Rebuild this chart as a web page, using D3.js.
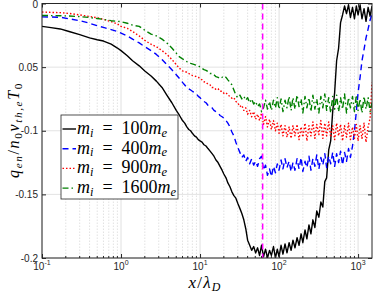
<!DOCTYPE html>
<html>
<head>
<meta charset="utf-8">
<script src="https://cdn.jsdelivr.net/npm/d3@7"></script>
<style>
  body { margin: 0; background: #fff; }
  svg { display: block; }
</style>
</head>
<body>
<svg id="chart"></svg>
<script>
// x / lambda_D sample positions (shared by all runs)
const xs = [0.1, 0.13, 0.17, 0.22, 0.3, 0.4, 0.5, 0.6, 0.75, 0.9, 1, 1.2, 1.4, 1.7, 2, 2.4, 2.8, 3.3, 3.8, 4.4, 5, 5.5,
  6, 6.4, 6.8, 7.2, 7.6, 8, 8.5, 9, 9.5, 10,
  10.6, 11.2, 11.9, 12.6, 13.4, 14.2, 15, 15.9, 16.9, 17.9,
  19, 20, 21.3, 22.5, 23.9, 25.3, 26.8, 28.4, 30, 31.9,
  33.8, 35.8, 37.9, 40, 42.5, 45, 47.7, 50.5, 53.5, 56.7,
  60, 63.6, 67.4, 71.4, 75.7, 80, 85, 90, 95, 100,
  106, 112, 119, 126, 134, 142, 150, 159, 169, 179,
  190, 200, 213, 225, 239, 253, 268, 284, 300, 319,
  338, 358, 379, 400, 425, 450, 477, 505, 535, 567,
  600, 636, 674, 714, 757, 800, 850, 900, 950, 1000,
  1060, 1120, 1190, 1260, 1340, 1420, 1500];

const q100 = [-0.018, -0.019, -0.02, -0.022, -0.0245, -0.027, -0.0285, -0.0295, -0.032, -0.035, -0.037, -0.041, -0.045, -0.049, -0.053, -0.057, -0.061, -0.066, -0.072, -0.078, -0.084, -0.088,
  -0.092, -0.094, -0.097, -0.099, -0.1, -0.102, -0.104, -0.105, -0.107, -0.108,
  -0.109, -0.111, -0.112, -0.114, -0.116, -0.118, -0.12, -0.123, -0.125, -0.128,
  -0.131, -0.134, -0.137, -0.141, -0.144, -0.148, -0.151, -0.153, -0.157, -0.161,
  -0.165, -0.17, -0.177, -0.186, -0.19, -0.194, -0.191, -0.196, -0.192, -0.198,
  -0.19, -0.199, -0.193, -0.2, -0.194, -0.198, -0.191, -0.2, -0.193, -0.199,
  -0.19, -0.197, -0.189, -0.196, -0.188, -0.194, -0.186, -0.192, -0.184, -0.19,
  -0.181, -0.188, -0.178, -0.185, -0.174, -0.181, -0.17, -0.176, -0.163, -0.168,
  -0.156, -0.16, -0.14, -0.137, -0.115, -0.108, -0.085, -0.07, -0.045, -0.035,
  -0.015, -0.009, -0.002, -0.008, -0.001, -0.011, -0.003, -0.012, -0.002, -0.009,
  -0.001, -0.012, -0.004, -0.014, -0.003, -0.01, -0.002];

const q400 = [-0.0105, -0.0106, -0.0108, -0.012, -0.0135, -0.0155, -0.0175, -0.0188, -0.0205, -0.022, -0.0232, -0.0255, -0.028, -0.031, -0.034, -0.037, -0.04, -0.044, -0.048, -0.052, -0.056, -0.059,
  -0.062, -0.064, -0.066, -0.067, -0.068, -0.069, -0.07, -0.071, -0.073, -0.074,
  -0.076, -0.077, -0.078, -0.08, -0.081, -0.082, -0.084, -0.085, -0.086, -0.088,
  -0.089, -0.09, -0.092, -0.094, -0.097, -0.101, -0.104, -0.109, -0.113, -0.117,
  -0.121, -0.119, -0.124, -0.121, -0.126, -0.122, -0.127, -0.124, -0.128, -0.122,
  -0.12, -0.131, -0.127, -0.135, -0.13, -0.136, -0.128, -0.133, -0.126, -0.131,
  -0.123, -0.13, -0.122, -0.129, -0.124, -0.132, -0.125, -0.131, -0.122, -0.13,
  -0.121, -0.132, -0.124, -0.129, -0.12, -0.131, -0.122, -0.128, -0.119, -0.13,
  -0.121, -0.127, -0.118, -0.129, -0.12, -0.126, -0.117, -0.128, -0.118, -0.125,
  -0.116, -0.127, -0.117, -0.124, -0.114, -0.121, -0.112, -0.1, -0.085, -0.07,
  -0.058, -0.045, -0.036, -0.027, -0.02, -0.013, -0.008];

const q900 = [-0.0067, -0.007, -0.0072, -0.0078, -0.009, -0.0102, -0.0112, -0.0125, -0.0143, -0.016, -0.018, -0.0195, -0.022, -0.0255, -0.029, -0.032, -0.034, -0.037, -0.04, -0.044, -0.048, -0.051,
  -0.053, -0.0535, -0.054, -0.055, -0.056, -0.0565, -0.057, -0.0575, -0.058, -0.059,
  -0.06, -0.0615, -0.062, -0.0635, -0.064, -0.066, -0.066, -0.0675, -0.067, -0.069,
  -0.069, -0.0705, -0.07, -0.072, -0.073, -0.0745, -0.074, -0.077, -0.078, -0.081,
  -0.08, -0.084, -0.082, -0.087, -0.084, -0.089, -0.085, -0.091, -0.087, -0.092,
  -0.086, -0.095, -0.089, -0.097, -0.091, -0.099, -0.092, -0.1, -0.094, -0.102,
  -0.095, -0.104, -0.096, -0.105, -0.097, -0.106, -0.096, -0.104, -0.095, -0.107,
  -0.097, -0.105, -0.094, -0.108, -0.096, -0.104, -0.093, -0.106, -0.095, -0.103,
  -0.092, -0.106, -0.094, -0.104, -0.093, -0.105, -0.096, -0.107, -0.094, -0.104,
  -0.095, -0.108, -0.096, -0.105, -0.094, -0.107, -0.097, -0.106, -0.095, -0.108,
  -0.096, -0.106, -0.094, -0.109, -0.097, -0.09, -0.062];

const q1600 = [-0.0094, -0.0095, -0.0096, -0.0098, -0.0103, -0.011, -0.0118, -0.0125, -0.0135, -0.014, -0.0143, -0.0155, -0.017, -0.018, -0.021, -0.024, -0.0255, -0.028, -0.031, -0.035, -0.039, -0.042,
  -0.0435, -0.0445, -0.0457, -0.046, -0.047, -0.0475, -0.048, -0.0485, -0.049, -0.05,
  -0.051, -0.052, -0.0525, -0.0535, -0.055, -0.055, -0.056, -0.0575, -0.058, -0.059,
  -0.058, -0.057, -0.058, -0.06, -0.062, -0.064, -0.068, -0.072, -0.074, -0.072,
  -0.075, -0.073, -0.076, -0.074, -0.078, -0.075, -0.079, -0.077, -0.081, -0.079,
  -0.085, -0.082, -0.076, -0.083, -0.077, -0.084, -0.076, -0.082, -0.074, -0.083,
  -0.075, -0.085, -0.076, -0.082, -0.073, -0.084, -0.074, -0.083, -0.072, -0.081,
  -0.075, -0.086, -0.073, -0.082, -0.074, -0.085, -0.072, -0.083, -0.075, -0.086,
  -0.073, -0.082, -0.071, -0.084, -0.074, -0.086, -0.073, -0.083, -0.072, -0.085,
  -0.074, -0.083, -0.071, -0.086, -0.074, -0.082, -0.073, -0.085, -0.072, -0.084,
  -0.075, -0.086, -0.073, -0.083, -0.074, -0.085, -0.078];

const massRatios = ["100", "400", "900", "1600"];
const seriesValues = [q100, q400, q900, q1600];
const colors = ["#000000", "#0000ff", "#ff0000", "#008000"];
const dashes = [null, "6,4", "1.5,2", "6,3,1.5,3"];

const xMajor = [0.1, 1, 10, 100, 1000];
const xExponents = ["-1", "0", "1", "2", "3"];
const yTicks = [-0.2, -0.15, -0.1, -0.05, 0];
const yTickLabels = ["-0.2", "-0.15", "-0.1", "0.05", "0"];
const debyeMark = 62;

const WIDTH = 374;
const HEIGHT = 294;
const plot = { left: 42, right: 372, top: 3.5, bottom: 258 };

const svg = d3.select("#chart").attr("width", WIDTH).attr("height", HEIGHT);

const xScale = d3.scaleLog().domain([0.1, 1500]).range([plot.left, plot.right]);
const yScale = d3.scaleLinear().domain([-0.2, 0]).range([plot.bottom, plot.top]);

const minor = [];
[-1, 0, 1, 2, 3].forEach((e) => {
  for (let k = 2; k <= 9; k++) {
    const v = k * Math.pow(10, e);
    if (v < 1500) minor.push(v);
  }
});

// grid
const grid = svg.append("g");
grid.selectAll(".ymaj").data(yTicks).join("line")
  .attr("x1", plot.left).attr("x2", plot.right)
  .attr("y1", (d) => yScale(d)).attr("y2", (d) => yScale(d))
  .attr("stroke", "#e3e3e3").attr("stroke-width", 1);
grid.selectAll(".xmin").data(minor).join("line")
  .attr("x1", (d) => xScale(d)).attr("x2", (d) => xScale(d))
  .attr("y1", plot.top).attr("y2", plot.bottom)
  .attr("stroke", "#cfcfcf").attr("stroke-width", 0.6).attr("stroke-dasharray", "1.5,1.5");
grid.selectAll(".xmaj").data(xMajor).join("line")
  .attr("x1", (d) => xScale(d)).attr("x2", (d) => xScale(d))
  .attr("y1", plot.top).attr("y2", plot.bottom)
  .attr("stroke", "#e0e0e0").attr("stroke-width", 1);

svg.append("clipPath").attr("id", "clip")
  .append("rect")
  .attr("x", plot.left).attr("y", plot.top)
  .attr("width", plot.right - plot.left).attr("height", plot.bottom - plot.top);

const line = d3.line().x((d) => xScale(d[0])).y((d) => yScale(d[1]));

const lines = svg.append("g").attr("clip-path", "url(#clip)");
seriesValues.forEach((vals, i) => {
  lines.append("path")
    .datum(xs.map((v, j) => [v, vals[j]]))
    .attr("d", line)
    .attr("fill", "none")
    .attr("stroke", colors[i])
    .attr("stroke-width", 1.4)
    .attr("stroke-linejoin", "round")
    .attr("stroke-dasharray", dashes[i]);
});

lines.append("line")
  .attr("x1", xScale(debyeMark)).attr("x2", xScale(debyeMark))
  .attr("y1", plot.top).attr("y2", plot.bottom)
  .attr("stroke", "#ff00ff").attr("stroke-width", 1.5).attr("stroke-dasharray", "6,4");

// axes
const axisColor = "#262626";
const xAxis = svg.append("g").attr("transform", `translate(0, ${plot.bottom})`)
  .call(d3.axisBottom(xScale).tickValues(xMajor).tickSize(-4).tickFormat(""));
const xAxisTop = svg.append("g").attr("transform", `translate(0, ${plot.top})`)
  .call(d3.axisTop(xScale).tickValues(xMajor).tickSize(-4).tickFormat(""));
const yAxis = svg.append("g").attr("transform", `translate(${plot.left}, 0)`)
  .call(d3.axisLeft(yScale).tickValues(yTicks).tickSize(-4).tickFormat(""));
const yAxisRight = svg.append("g").attr("transform", `translate(${plot.right}, 0)`)
  .call(d3.axisRight(yScale).tickValues(yTicks).tickSize(-4).tickFormat(""));
[xAxis, xAxisTop, yAxis, yAxisRight].forEach((g) => {
  g.select(".domain").remove();
  g.selectAll("line").attr("stroke", axisColor);
});
svg.append("g").selectAll("line").data(minor).join("line")
  .attr("x1", (d) => xScale(d)).attr("x2", (d) => xScale(d))
  .attr("y1", plot.bottom).attr("y2", plot.bottom - 2)
  .attr("stroke", axisColor);

svg.append("rect")
  .attr("x", plot.left).attr("y", plot.top)
  .attr("width", plot.right - plot.left).attr("height", plot.bottom - plot.top)
  .attr("fill", "none").attr("stroke", axisColor).attr("stroke-width", 1);

// tick labels
const tickFont = "'Liberation Sans', Arial, sans-serif";
xMajor.forEach((v, i) => {
  const t = svg.append("text")
    .attr("x", xScale(v)).attr("y", 270)
    .attr("text-anchor", "middle")
    .attr("font-family", tickFont).attr("font-size", 10).attr("fill", axisColor);
  t.append("tspan").text("10");
  t.append("tspan").attr("dy", -5).attr("font-size", 7).text(xExponents[i]);
});
svg.append("g").selectAll("text").data(yTicks).join("text")
  .attr("x", plot.left - 4).attr("y", (d) => Math.max(yScale(d) + 3.5, 8))
  .attr("text-anchor", "end")
  .attr("font-family", tickFont).attr("font-size", 10).attr("fill", axisColor)
  .text((d, i) => yTickLabels[i]);

// math-style text: italic serif with subscripts
const mathFont = "'Liberation Serif', 'Times New Roman', serif";
function mathText(sel, parts, size, subShift = 0.2) {
  sel.selectAll("tspan").remove();
  let shift = 0;
  parts.forEach((p) => {
    const target = p.sub ? size * subShift : 0;
    sel.append("tspan")
      .attr("dy", target - shift)
      .attr("font-size", p.sub ? size * 0.7 : size)
      .attr("font-style", p.it ? "italic" : "normal")
      .text(p.t);
    shift = target;
  });
}
// widen letter spacing so the label spans the same length as in the figure
function spreadMath(sel, parts, size, targetLen) {
  mathText(sel, parts, size);
  const len = sel.node().getComputedTextLength();
  const n = parts.reduce((a, p) => a + p.t.length, 0);
  if (len < targetLen) sel.attr("letter-spacing", (targetLen - len) / n);
}
function fitMath(sel, parts, size, targetLen, subShift) {
  mathText(sel, parts, size, subShift);
  const len = sel.node().getComputedTextLength();
  const s = len > 0 ? size * targetLen / len : size;
  mathText(sel, parts, s, subShift);
  return s;
}

// axis labels
const xLabel = svg.append("text")
  .attr("x", 205).attr("y", 287.5)
  .attr("text-anchor", "middle")
  .attr("font-family", mathFont).attr("fill", "#000");
spreadMath(xLabel, [{ t: "x", it: true }, { t: "/" }, { t: "λ", it: true }, { t: "D", it: true, sub: true }], 17, 33);

const yLabel = svg.append("text")
  .attr("transform", "translate(19, 130) rotate(-90)")
  .attr("text-anchor", "middle")
  .attr("font-family", mathFont).attr("fill", "#000");
spreadMath(yLabel, [
  { t: "q", it: true }, { t: "en", it: true, sub: true }, { t: "/" },
  { t: "n", it: true }, { t: "0", sub: true }, { t: "v", it: true }, { t: "th,e", it: true, sub: true },
  { t: "T", it: true }, { t: "0", sub: true }
], 16, 96);

// legend
const legendParts = (m) => [
  { t: "m", it: true }, { t: "i", it: true, sub: true }, { t: "\u2002=\u2002" + m },
  { t: "m", it: true }, { t: "e", it: true, sub: true }
];
const legend = svg.append("g");
legend.append("rect")
  .attr("x", 61).attr("y", 115).attr("width", 117).attr("height", 84)
  .attr("fill", "#fff").attr("stroke", axisColor).attr("stroke-width", 0.8);
let legendSize = 16;
massRatios.forEach((m, i) => {
  const ly = 129 + i * 19.7;
  legend.append("line")
    .attr("x1", 62.5).attr("x2", 76).attr("y1", ly).attr("y2", ly)
    .attr("stroke", colors[i]).attr("stroke-width", 1.4)
    .attr("stroke-dasharray", dashes[i]);
  const t = legend.append("text")
    .attr("x", 77).attr("y", ly + 5)
    .attr("font-family", mathFont).attr("fill", "#000");
  if (i === 0) legendSize = fitMath(t, legendParts(m), 16, 90, 0.15);
  else mathText(t, legendParts(m), legendSize, 0.15);
});
</script>
</body>
</html>
